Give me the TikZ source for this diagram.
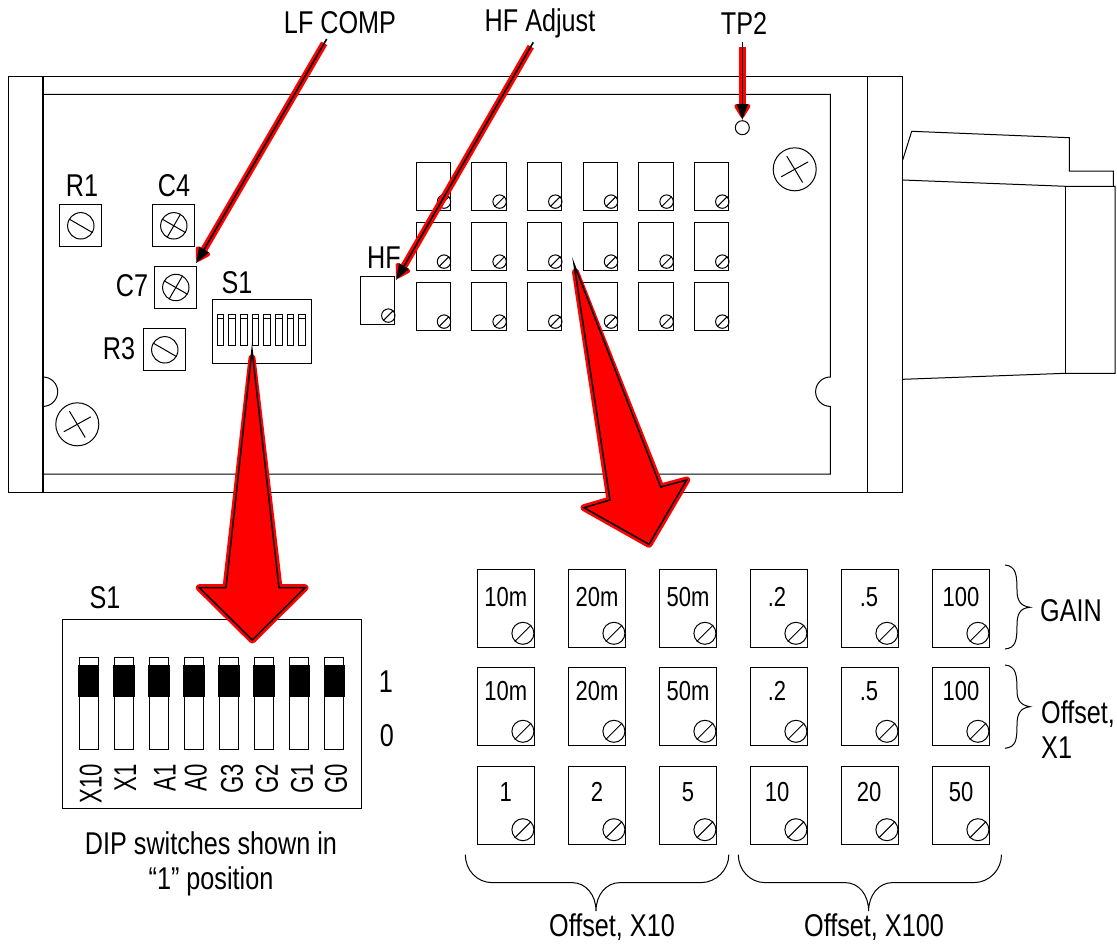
\documentclass[tikz,border=0pt]{standalone}
\usepackage{fontspec}
\setmainfont[FakeStretch=0.8]{Liberation Sans}
\usetikzlibrary{arrows.meta,calc}
\tikzset{
  part/.style={line width=1pt},
  lbl/.style={inner sep=0pt,font=\fontsize{31.5}{35}\selectfont},
  small/.style={inner sep=0pt,font=\fontsize{27.5}{30}\selectfont},
  potbox/.style={draw,part,anchor=north west,inner sep=0pt,minimum width=34.3pt,minimum height=47.3pt},
  bigbox/.style={draw,part,anchor=north west,inner sep=0pt,minimum width=56.3pt,minimum height=78pt},
  sqbox/.style={draw,part,anchor=north west,inner sep=0pt,minimum width=42pt,minimum height=42pt},
  screw/.style={draw,part,circle,inner sep=0pt,minimum size=#1},
  slot/.style={draw,part,anchor=north west,inner sep=0pt,minimum width=19pt,minimum height=92pt},
  slider/.style={fill=black,anchor=north west,inner sep=0pt,minimum width=21.5pt,minimum height=32.4pt},
  redline/.style={draw=red,line width=7pt,shorten <=5pt,shorten >=2pt,-{Triangle[length=16pt,width=18pt,round]}},
  blackline/.style={draw=black,line width=1.6pt,-{Triangle[length=16pt,width=11pt]}},
  redblock/.style={draw=red,fill=red,line width=7pt,line join=round},
  blackblock/.style={draw=black,line width=1.5pt,line join=miter}
}
\begin{document}
\begin{tikzpicture}[x=1pt,y=-1pt]
  \useasboundingbox (0,0) rectangle (1117,946);
  % case
  \draw[part] (8,76.3) rectangle (902.7,492);
  \draw[line width=1.6pt] (43,76.3) -- (43,492);
  \draw[part] (867.3,76.3) -- (867.3,492);
  \draw[part] (43,94.3) -- (830.3,94.3) -- (830.3,377) arc[start angle=90,delta angle=180,radius=14.7pt]
    -- (830.3,474) -- (43,474);
  \draw[part] (43,377) arc[start angle=90,delta angle=-180,radius=14.7pt];
  % mounting screws
  \node[screw=43pt](scrA) at (794.7,169.3) {};
  \node[screw=43pt](scrB) at (77.3,424.3) {};
  \foreach \s in {scrA,scrB} {
    \draw[part] ($(\s)!.7!(\s.121)$) -- ($(\s)!.7!(\s.-59)$);
    \draw[part] ($(\s)!.7!(\s.29)$) -- ($(\s)!.7!(\s.209)$);
  }
  % connector
  \draw[part] (902.7,160) -- (911.7,131.3) -- (1069.3,137.7) -- (1069.3,171) -- (1113.3,171) -- (1113.3,186.3);
  \draw[part] (902.7,180) -- (1065.7,186.3) -- (1115,186.3) -- (1115,373.3) -- (1065.7,373.3) -- (902.7,379.3);
  \draw[line width=1.3pt] (1065.7,186.3) -- (1065.7,373.3);
  % square trimmers
  \node[sqbox](r1) at (59.3,204.3) {};
  \node[sqbox](c4) at (152.3,204.3) {};
  \node[sqbox](c7) at (154.3,266) {};
  \node[sqbox](r3) at (143.3,328.3) {};
  \foreach \b in {r1,c4,c7,r3} \node[screw=26.4pt](\b s) at (\b.center) {};
  \foreach \b in {r1,r3,c4,c7} \draw[part] (\b s.150) -- (\b s.-30);
  \foreach \b in {c4,c7} \draw[part] (\b s.60) -- (\b s.240);
  \node[lbl](r1t) at (82,186) {R1};
  \node[lbl](c4t) at (174,186) {C4};
  \node[lbl](c7t) at (132,286) {C7};
  \node[lbl](s1t) at (237,283) {S1};
  \node[lbl](r3t) at (119,349) {R3};
  \node[lbl](hft) at (384,258) {HF};
  % small dip switch
  \node[draw,part,anchor=north west,inner sep=0pt,minimum width=99.6pt,minimum height=64pt](sw) at (211.7,299.3) {};
  \foreach \i in {0,...,7} {
    \draw[line width=0.9pt] (217+11.7*\i,314.3) rectangle (223.7+11.7*\i,345.7);
    \draw[line width=0.9pt] (217+11.7*\i,318.3) -- (223.7+11.7*\i,318.3);
  }
  % adjustment grid on board
  \foreach \col [count=\c] in {415.7,471.3,527,582.7,638.3,694}
    \foreach \row [count=\r] in {162.3,222.3,282.3} {
      \node[potbox](p\c\r) at (\col,\row) {};
      \node[screw=13.4pt](q\c\r) at ([shift={(-7,-9)}]p\c\r.south east) {};
      \draw[part] (q\c\r.225) -- (q\c\r.45);
    }
  \node[potbox](hfbox) at (360,276.3) {};
  \node[screw=13.4pt](hfs) at ([shift={(-7,-9)}]hfbox.south east) {};
  \draw[part] (hfs.225) -- (hfs.45);
  \node[draw,part,circle,inner sep=0pt,minimum size=14pt](tp) at (742.3,127.7) {};
  % large dip switch
  \node[draw,part,anchor=north west,inner sep=0pt,minimum width=298.4pt,minimum height=188.7pt](dip) at (62.3,619) {};
  \node[lbl](dipt) at (105,598) {S1};
  \foreach \i in {0,...,7} {
    \node[slot](sl\i) at (78.7+35.1*\i,657.3) {};
    \node[slider](sb\i) at (77.7+35.1*\i,664.3) {};
  }
  \foreach \x/\t in {90.7/X10,125.3/X1,164.7/A1,195.7/A0,232/G3,267/G2,302/G1,336/G0}
    \node[lbl,rotate=90,anchor=east](d\t) at (\x,764) {\scalebox{.88}[1]{\t}};
  \node[lbl](on) at (386,682) {1};
  \node[lbl](off) at (387,736) {0};
  \node[lbl,align=center](dipnote) at (211,863.5) {DIP switches shown in\\“1” position};
  % enlarged adjustment grid
  \foreach \col/\tone/\ttwo/\tx [count=\c] in {477.3/10m/1/505.7,568.3/20m/2/597,659.3/50m/5/688,750.3/.2/10/777,841.3/.5/20/869,932.3/100/50/961}
    \foreach \row/\ty [count=\r] in {569.3/596.7,667.3/691,765.7/791.7} {
      \node[bigbox](b\c\r) at (\col,\row) {};
      \node[screw=22pt](s\c\r) at ([shift={(-11.7,-15)}]b\c\r.south east) {};
      \draw[part] (s\c\r.225) -- (s\c\r.45);
      \node[small](t\c\r) at (\tx,\ty) {\ifnum\r=3 \ttwo\else\tone\fi};
    }
  % braces
  \draw[part] (1005,565) .. controls (1016,566) and (1017,575) .. (1017,590) .. controls (1017,600) and (1020,606) .. (1030,607.3)
    .. controls (1020,608) and (1017,614) .. (1017,625) .. controls (1017,640) and (1016,648) .. (1005,649);
  \draw[part] (1005,665) .. controls (1016,666) and (1017,675) .. (1017,690) .. controls (1017,700) and (1020,705) .. (1030,706.7)
    .. controls (1020,708) and (1017,714) .. (1017,725) .. controls (1017,740) and (1016,747) .. (1005,748.3);
  \draw[part] (465.3,854.6) .. controls (465.3,870) and (477,882.6) .. (492,882.6) -- (572,882.6)
    .. controls (586,882.6) and (596,895) .. (596,911) .. controls (596,895) and (606,882.6) .. (620,882.6)
    -- (701,882.6) .. controls (716,882.6) and (728.8,870) .. (728.8,854.6);
  \draw[part] (738.3,854.6) .. controls (738.3,870) and (750,882.6) .. (765,882.6) -- (845,882.6)
    .. controls (859,882.6) and (868.6,895) .. (868.6,911) .. controls (868.6,895) and (879,882.6) .. (892.3,882.6)
    -- (974,882.6) .. controls (989,882.6) and (1001.5,870) .. (1001.5,854.6);
  \node[lbl](gain) at (1071,611) {GAIN};
  \node[lbl,align=left,anchor=west](offone) at (1041,730) {Offset,\\X1};
  \node[lbl](offten) at (612,927) {Offset, X10};
  \node[lbl](offhun) at (874,927) {Offset, X100};
  % call outs
  \node[lbl](lf) at (340,23) {LF COMP};
  \node[lbl](hfa) at (540,23) {HF Adjust};
  \node[lbl](tpt) at (744,23) {TP2};
  \coordinate(lfs) at (326.7,39);
  \coordinate(hfas) at (533.3,42.3);
  \coordinate(tps) at (742.3,41.7);
  \coordinate(lfe) at (196,263.3);
  \coordinate(hfae) at (396,280);
  \coordinate(tpe) at (742.3,120);
  \draw[redline] (lfs) -- (lfe);
  \draw[blackline] (lfs) -- (lfe);
  \draw[redline] (hfas) -- (hfae);
  \draw[blackline] (hfas) -- (hfae);
  \draw[redline] (tps) -- (tpe);
  \draw[blackline] (tps) -- (tpe);
  % block arrows
  \draw[redblock] (252,358) -- (226,587.7) -- (199.3,587.7) -- (252.3,640) -- (305,587.7) -- (279,587.7) -- cycle;
  \draw[blackblock] (252,350) -- (226,587.7) -- (199.3,587.7) -- (252.3,640) -- (305,587.7) -- (279,587.7) -- cycle;
  \draw[redblock] (575.5,272) -- (610,500) -- (584,507.7) -- (649,544.3) -- (686.7,480) -- (660.7,487) -- cycle;
  \draw[blackblock] (574,264) -- (610,500) -- (584,507.7) -- (649,544.3) -- (686.7,480) -- (660.7,487) -- cycle;
\end{tikzpicture}
\end{document}
